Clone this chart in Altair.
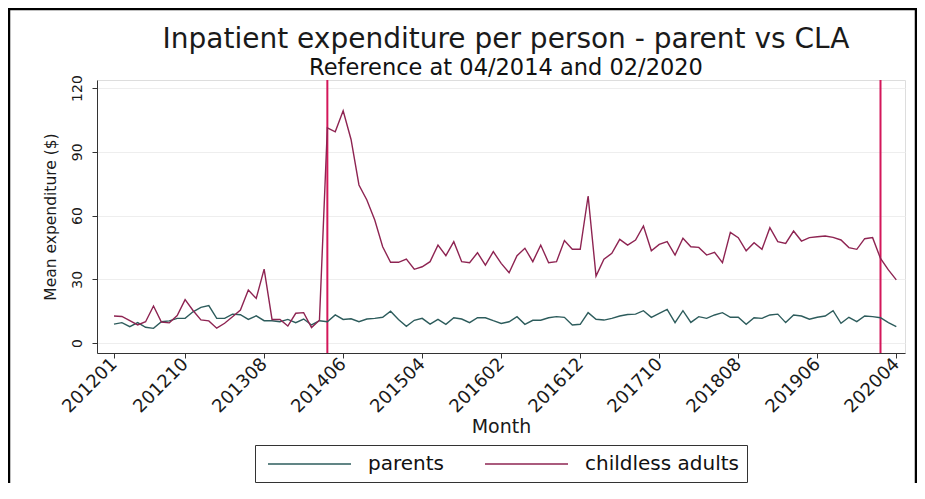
import altair as alt
import pandas as pd

# ---- data ----
month_index = list(range(100))  # 0 = 2012-01 ... 99 = 2020-04

parents = [
    8.9, 9.6, 7.7, 9.6, 7.4, 6.9, 10.0, 10.4, 11.6, 11.6,
    14.7, 16.8, 17.6, 11.6, 11.6, 13.6, 13.3, 11.1, 12.8, 10.5,
    10.5, 10.0, 11.1, 9.6, 11.3, 8.5, 10.5, 10.0, 13.2, 11.1,
    11.4, 10.0, 11.3, 11.6, 12.1, 15.0, 11.1, 7.9, 10.7, 11.6,
    8.9, 11.1, 8.8, 11.9, 11.3, 9.6, 11.9, 11.9, 10.5, 9.2,
    10.0, 12.4, 8.8, 10.7, 10.7, 11.9, 12.4, 12.1, 8.5, 8.8,
    14.3, 11.2, 10.8, 11.6, 12.7, 13.4, 13.6, 15.2, 12.1, 13.9,
    15.8, 9.6, 15.2, 9.7, 12.4, 11.6, 13.2, 14.3, 12.1, 12.1,
    8.8, 11.9, 11.6, 13.2, 13.6, 9.6, 13.2, 12.7, 11.2, 12.1,
    12.7, 15.2, 9.3, 12.1, 10.1, 12.7, 12.4, 11.9, 9.6, 7.7,
]

childless = [
    12.7, 12.5, 10.5, 8.5, 10.0, 17.4, 9.9, 9.5, 12.9, 20.4,
    15.3, 10.9, 10.4, 7.0, 9.3, 12.4, 15.5, 24.9, 21.0, 34.8,
    11.1, 11.1, 8.0, 14.0, 14.3, 7.3, 10.7, 101.3, 99.4, 109.3,
    95.8, 74.4, 67.3, 57.9, 45.3, 38.0, 38.0, 39.5, 34.7, 35.9,
    38.3, 46.1, 41.1, 47.7, 38.3, 37.8, 42.5, 36.7, 43.0, 37.5,
    33.1, 41.1, 44.6, 38.3, 46.1, 37.8, 38.3, 48.2, 44.1, 44.1,
    69.2, 31.5, 39.5, 42.2, 48.8, 46.1, 48.5, 55.1, 43.4, 46.4,
    47.7, 41.4, 49.3, 45.3, 45.0, 41.4, 42.7, 37.8, 52.1, 49.6,
    43.4, 47.2, 44.1, 54.3, 47.7, 46.9, 52.7, 48.0, 49.6, 50.0,
    50.4, 49.7, 48.5, 44.9, 44.1, 49.1, 49.6, 39.8, 34.4, 29.7,
]

series_names = ["parents", "childless adults"]
series_colors = ["#2d5c5c", "#8e2452"]
reference_months = [27, 97]  # 04/2014 and 02/2020
tick_values = [0, 9, 19, 29, 39, 49, 59, 69, 79, 89, 99]
tick_labels = ["201201", "201210", "201308", "201406", "201504", "201602",
               "201612", "201710", "201808", "201906", "202004"]
y_ticks = [0, 30, 60, 90, 120]

# ---- tables ----
df = pd.DataFrame({
    "month": month_index + month_index,
    "value": parents + childless,
    "series": [series_names[0]] * len(parents) + [series_names[1]] * len(childless),
})
ref_df = pd.DataFrame({"month": reference_months})

label_expr = ("[" + ",".join("'%s'" % t for t in tick_labels) + "][indexof(["
              + ",".join(str(v) for v in tick_values) + "], datum.value)]")

FONT = "DejaVu Sans"
W, H = 808, 273

x_scale = alt.Scale(domain=[-2.15, 100.1], nice=False, zero=False)
y_scale = alt.Scale(domain=[-4.7, 123.8], nice=False, zero=False)

x_axis = alt.Axis(
    values=tick_values, labelExpr=label_expr, labelAngle=315,
    labelAlign="right", labelBaseline="middle", labelPadding=3,
    tickSize=5, grid=False, title="Month", titlePadding=2,
    labelFontSize=18, titleFontSize=19, titleFontWeight="normal",
    labelFont=FONT, titleFont=FONT, labelColor="#1a1a1a", titleColor="#1a1a1a",
    domainColor="#333333", tickColor="#333333", labelOverlap=False,
)
y_axis = alt.Axis(
    values=y_ticks, title="Mean expenditure ($)", labelAngle=270,
    labelAlign="center", labelBaseline="bottom", labelPadding=8,
    tickSize=5, grid=True, gridColor="#eeeeee", gridWidth=1,
    labelFontSize=14, titleFontSize=15.5, titleFontWeight="normal",
    labelFont=FONT, titleFont=FONT, labelColor="#1a1a1a", titleColor="#1a1a1a",
    domainColor="#333333", tickColor="#333333", titlePadding=12,
)

legend = alt.Legend(
    title=None, orient="none", legendX=158, legendY=365,
    direction="horizontal", symbolType="M-1,0L7.3,0", symbolSize=400,
    symbolStrokeWidth=1.6, symbolOffset=4, labelOffset=79,
    labelFontSize=20, labelFont=FONT, labelColor="#111111",
    strokeColor="#333333", padding=8, columnPadding=36, fillColor="white",
)

frame = alt.Chart(alt.Data(values=[{"k": 1}])).mark_rect(
    fillOpacity=0, stroke="black", strokeWidth=2.5
).encode(
    x=alt.value(-88), x2=alt.value(819), y=alt.value(-71), y2=alt.value(460)
)

lines = alt.Chart(df).mark_line(strokeWidth=1.4).encode(
    x=alt.X("month:Q", scale=x_scale, axis=x_axis),
    y=alt.Y("value:Q", scale=y_scale, axis=y_axis),
    color=alt.Color("series:N", scale=alt.Scale(domain=series_names, range=series_colors),
                    legend=legend),
    detail="series:N",
)

rules = alt.Chart(ref_df).mark_rule(color="#d3175a", strokeWidth=2).encode(
    x=alt.X("month:Q", scale=x_scale)
)

chart = alt.layer(frame, rules, lines).properties(
    width=W, height=H,
    title=alt.TitleParams(
        text="Inpatient expenditure per person - parent vs CLA",
        subtitle="Reference at 04/2014 and 02/2020",
        fontSize=28, subtitleFontSize=22.5, font=FONT, subtitleFont=FONT,
        fontWeight="normal", color="#1a1a1a", subtitleColor="#111111",
        anchor="middle", offset=-72, subtitlePadding=3, dx=5,
    ),
    autosize=alt.AutoSizeParams(type="none"),
    padding={"left": 89, "top": 72, "right": 12, "bottom": 130},
).configure_view(stroke=None).configure(background="white")

chart.save("out.html", embed_options={"renderer": "svg", "actions": False})
